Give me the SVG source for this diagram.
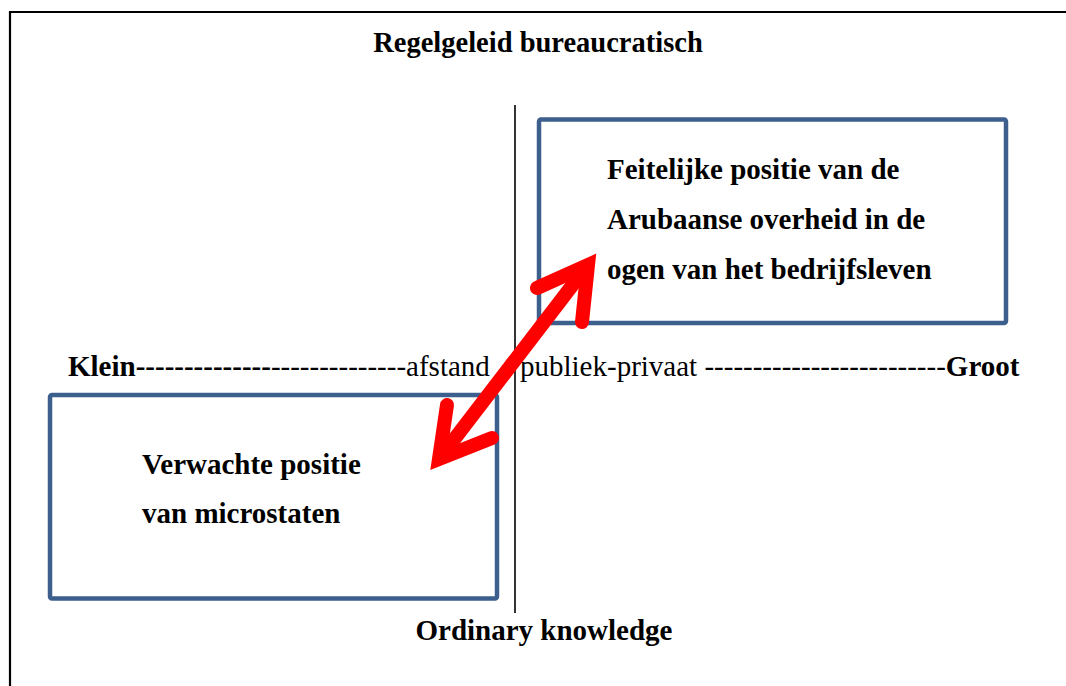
<svg xmlns="http://www.w3.org/2000/svg" width="1066" height="686" viewBox="0 0 1066 686">
<defs>
<style>
.t{font-family:"Liberation Serif","Times New Roman",serif;font-size:29px;fill:#000}
.b{font-weight:bold}
.box{fill:none;stroke:#3C5F8D;stroke-width:4.5}
.arr{fill:none;stroke:#FF0000;stroke-width:14;stroke-linecap:round;stroke-linejoin:miter;stroke-miterlimit:10}
</style>
</defs>
<rect width="1066" height="686" fill="#fff"/>
<g id="frame">
<path d="M10,686 L10,12 L1066,12" fill="none" stroke="#000" stroke-width="2.2"/>
</g>
<g id="axis">
<line x1="515" y1="105" x2="515" y2="613" stroke="#000" stroke-width="1.6"/>
</g>
<g id="title">
<text class="t b" x="538" y="52" text-anchor="middle" style="font-size:28.5px">Regelgeleid bureaucratisch</text>
</g>
<g id="bottom-label">
<text class="t b" x="544" y="640" text-anchor="middle">Ordinary knowledge</text>
</g>
<g id="axis-label">
<text class="t" x="68" y="376"><tspan class="b">Klein--------------</tspan>--------------afstand</text>
<text class="t" x="520" y="376">publiek-privaat -------------------------<tspan class="b">Groot</tspan></text>
</g>
<g id="node-feitelijk">
<rect class="box" x="539" y="119.5" width="467" height="203.5" rx="2"/>
<text class="t b" x="607" y="179">Feitelijke positie van de</text>
<text class="t b" x="607" y="229">Arubaanse overheid in de</text>
<text class="t b" x="607" y="279">ogen van het bedrijfsleven</text>
</g>
<g id="node-verwacht">
<rect class="box" x="50" y="395" width="447" height="203.5" rx="2"/>
<text class="t b" x="142" y="474">Verwachte positie</text>
<text class="t b" x="142" y="523">van microstaten</text>
</g>
<g id="connectors">
<line class="arr" x1="446" y1="450" x2="581" y2="274"/>
<polyline class="arr" points="537,288 588,265 582,322"/>
<polyline class="arr" points="447,405 439,459 492,438"/>
</g>
</svg>
